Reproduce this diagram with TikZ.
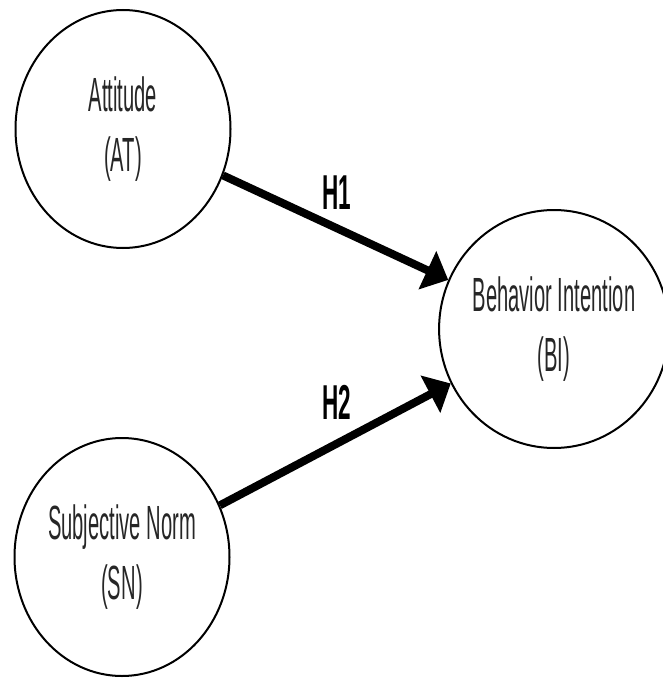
\documentclass[tikz,border=0pt]{standalone}
\usepackage{fontspec}
\setmainfont{Liberation Sans}[FakeStretch=0.42]
\newfontfamily\hypfont{Liberation Sans}[FakeStretch=0.46]
\usetikzlibrary{shapes.geometric,arrows.meta}

\begin{document}
\begin{tikzpicture}[
x=1pt,y=-1pt,
font=\fontsize{48}{60}\selectfont,
construct/.style={
ellipse,
draw=black,
line width=2pt,
minimum width=215pt,
minimum height=238pt,
inner sep=0pt,
align=center,
text=black!85
},
hypo/.style={
line width=8pt,
-{Triangle[length=23pt,width=41pt]}
},
hlabel/.style={
font=\hypfont\fontsize{49}{50}\selectfont\bfseries
}
]

\useasboundingbox (0,0) rectangle (662,680);

\node[construct] (at) at (123,129)
{Attitude\\(AT)};

\node[construct] (bi) at (554,329)
{Behavior Intention\\(BI)};

\node[construct] (sn) at (122,557)
{Subjective Norm\\(SN)};

% Hypothesis paths
\draw[hypo] (at) -- (bi);
\draw[hypo] (sn) -- (bi);

% Path labels
\node[hlabel] (h1) at (337,193) {H1};
\node[hlabel] (h2) at (337,402) {H2};

\end{tikzpicture}
\end{document}
